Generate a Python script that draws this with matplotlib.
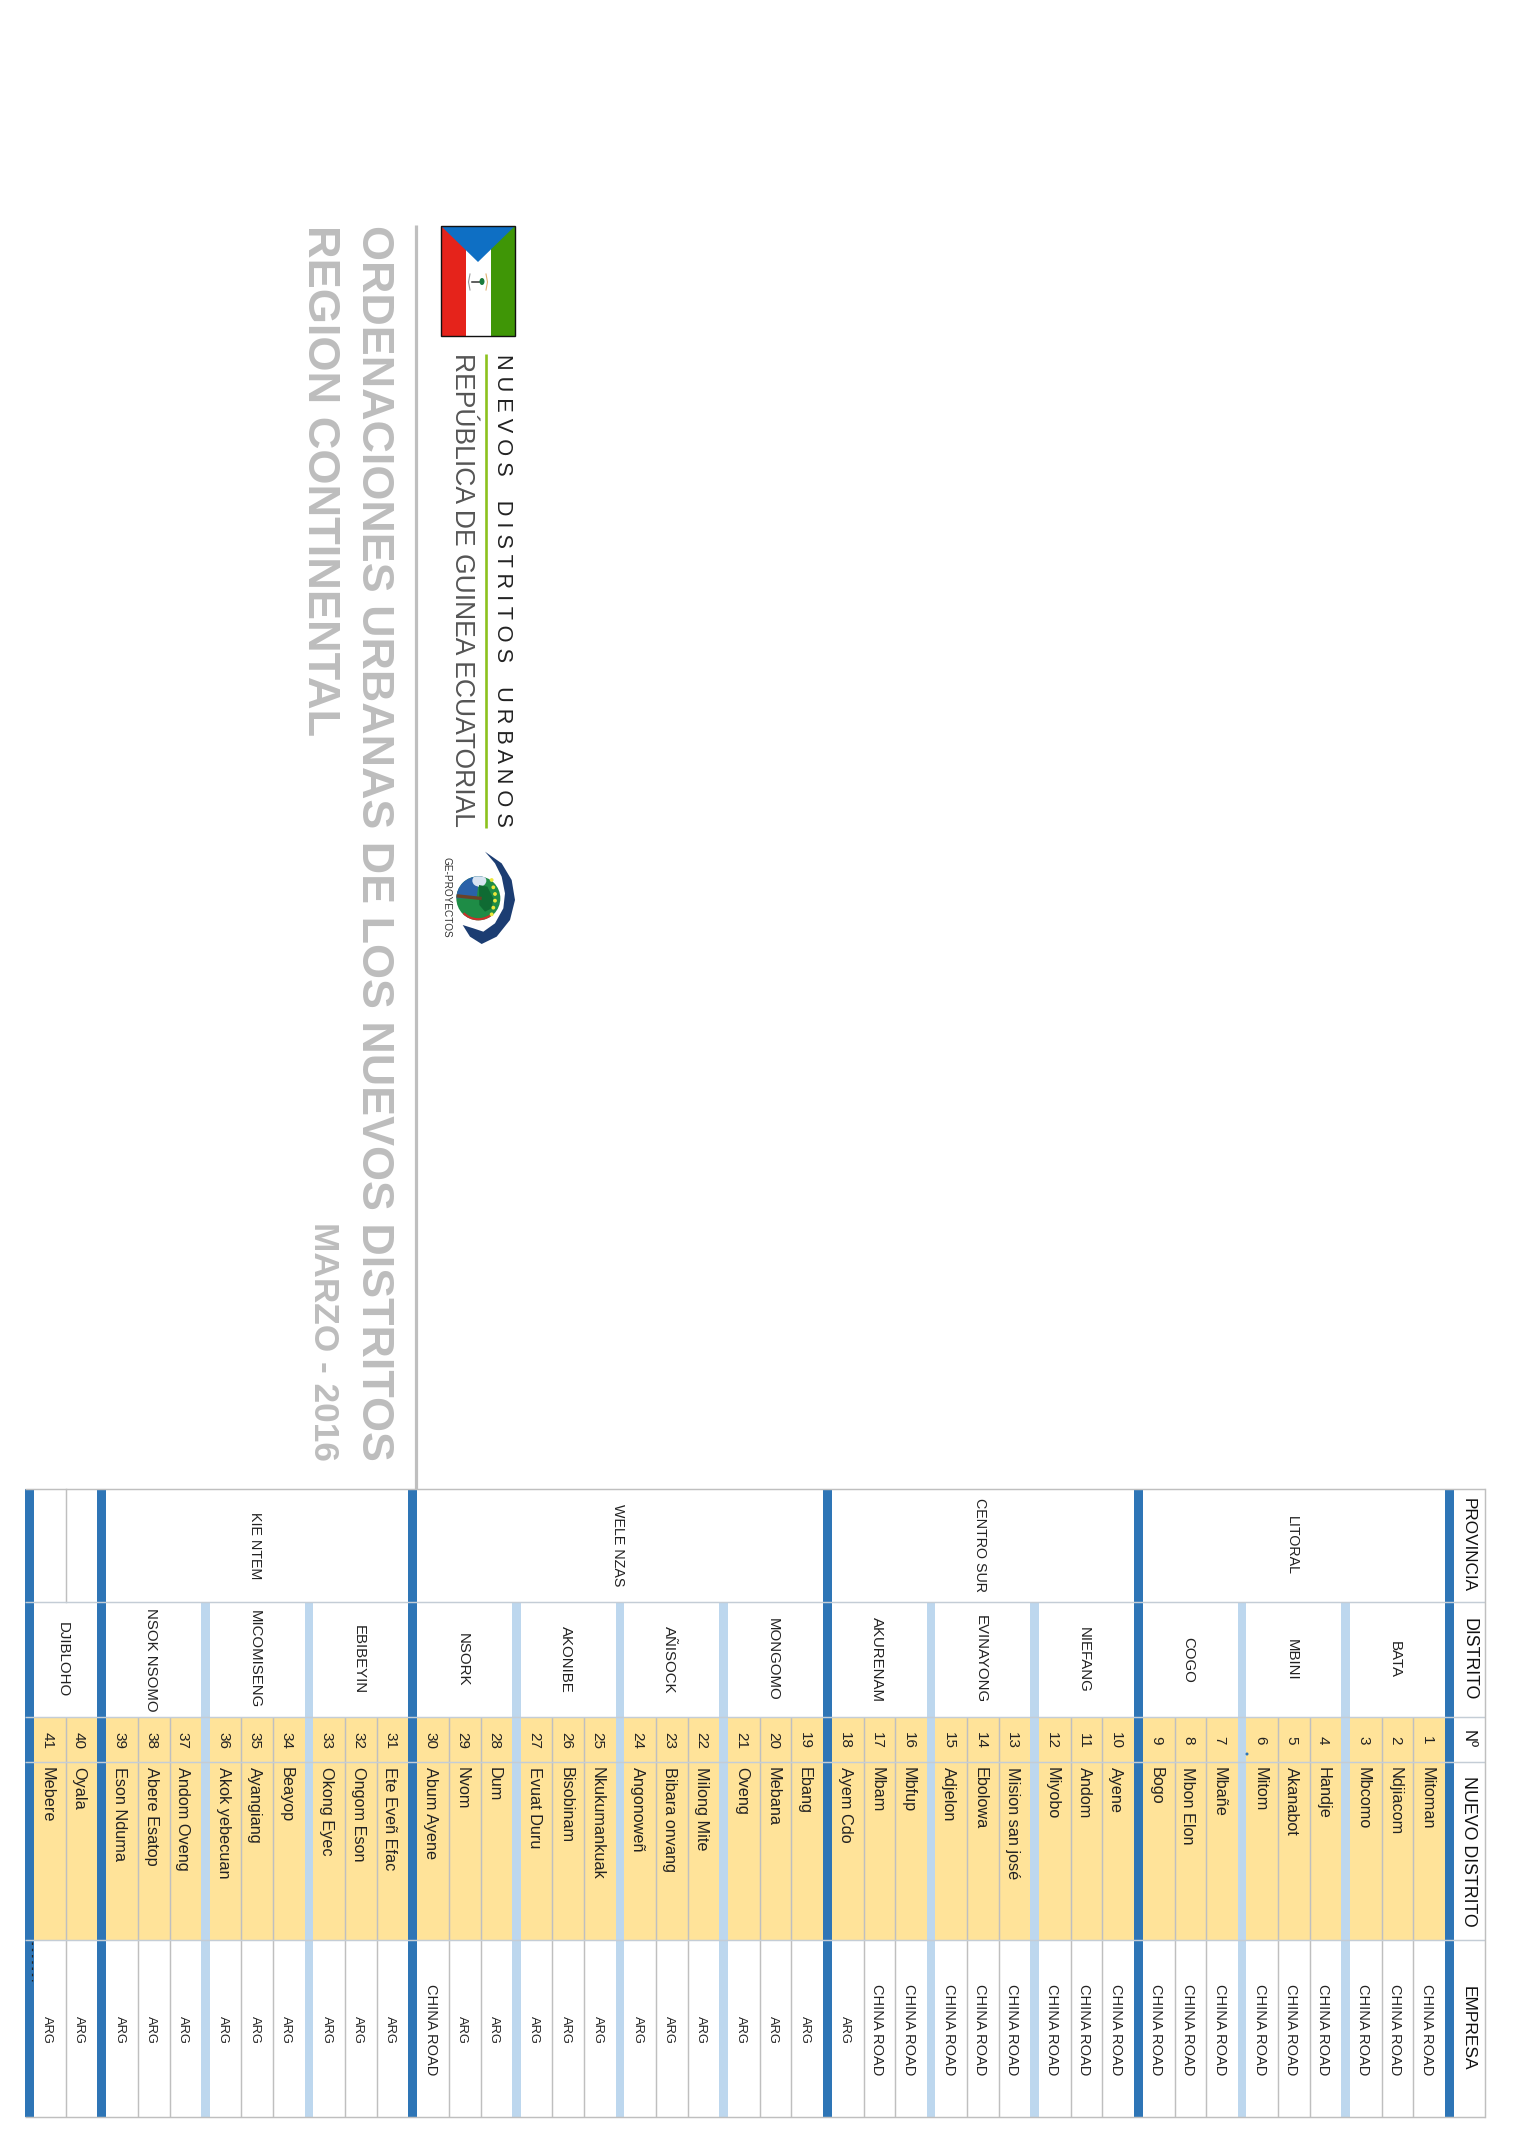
import matplotlib
matplotlib.use("Agg")
import matplotlib.pyplot as plt
from matplotlib.patches import Rectangle, Polygon, Circle, Wedge, Ellipse

# ---------- data ----------
province_names = ["LITORAL", "CENTRO SUR", "WELE NZAS", "KIE NTEM", ""]
province_districts = [3, 3, 4, 3, 1]
district_names = ["BATA", "MBINI", "COGO", "NIEFANG", "EVINAYONG", "AKURENAM", "MONGOMO",
                  "AÑISOCK", "AKONIBE", "NSORK", "EBIBEYIN", "MICOMISENG", "NSOK NSOMO", "DJIBLOHO"]
district_rows = [3, 3, 3, 3, 3, 3, 3, 3, 3, 3, 3, 3, 3, 2]
numbers = list(range(1, 42))
new_districts = ["Mitoman", "Ndjiacom", "Mbcomo", "Handje", "Akanabot", "Mitom", "Mbañe", "Mbon Elon",
                 "Bogo", "Ayene", "Andom", "Miyobo", "Mision san josé", "Ebolowa", "Adjelon", "Mbfup",
                 "Mbam", "Ayem Cdo", "Ebang", "Mebana", "Oveng", "Milong Mite", "Bibara onvang",
                 "Angonoweñ", "Nkukumankuak", "Bisobinam", "Evuat Duru", "Dum", "Nvom", "Abum Ayene",
                 "Ete Eveñ Efac", "Ongom Eson", "Okong Eyec", "Beayop", "Ayangiang", "Akok yebecuan",
                 "Andom Oveng", "Abere Esatop", "Eson Nduma", "Oyala", "Mebere"]
companies = ["CHINA ROAD"] * 17 + ["ARG"] * 11 + ["ARG", "CHINA ROAD"] + ["ARG"] * 11
headers = ["PROVINCIA", "DISTRITO", "Nº", "NUEVO DISTRITO", "EMPRESA"]
header_lengths = [94, 82, 18, 150, 85]
title_lines = ["ORDENACIONES URBANAS DE LOS NUEVOS DISTRITOS", "REGION CONTINENTAL"]
date_text = "MARZO - 2016"

# ---------- style / layout ----------
SANS = ["Liberation Sans", "DejaVu Sans"]
DARK, LIGHT, YELLOW, GRID = "#2E75B6", "#BDD7EE", "#FFE399", "#BFBFBF"
TITLE_GREY = "#BDBDBD"
INK = "#222222"
Y_EDGES = [1489, 1602, 1717, 1762, 1940, 2117]
RIGHT, LEFT = 1485, 25
HEAD_W, ROW_W, DARK_W, LIGHT_W = 31, 31.65, 9, 8.6
LW = 1.05
TX = -2.5   # text offset from the centre of its cell

fig = plt.figure(figsize=(15.21, 21.51), dpi=100, facecolor="white")
ax = fig.add_axes([0, 0, 1, 1])
ax.set_xlim(0, 1521)
ax.set_ylim(2151, 0)
ax.axis("off")


def rect(x0, x1, y0, y1, color, z=1):
    ax.add_patch(Rectangle((x0, y0), x1 - x0, y1 - y0, fc=color, ec="none", zorder=z))


def vtext(x, y, s, size, va="center", family=SANS, color=INK, weight="normal"):
    return ax.text(x, y, s, rotation=-90, ha="center", va=va, fontsize=size, family=family,
                   color=color, weight=weight, zorder=6)


def fit(t, length):
    r = fig.canvas.get_renderer()
    t.set_fontsize(t.get_fontsize() * length / t.get_window_extent(r).height)


# ---------- table layout, right to left ----------
x = RIGHT
hx0 = x - HEAD_W
for i, h in enumerate(headers):
    t = vtext((hx0 + x) / 2 - 1, (Y_EDGES[i] + Y_EDGES[i + 1]) / 2, h, 12, color="#111111")
    fit(t, header_lengths[i])
x = hx0

row_spans = []
row_i = 0
d_i = 0
vlines = []
for p_i, pname in enumerate(province_names):
    rect(x - DARK_W, x, Y_EDGES[0], Y_EDGES[-1], DARK, 3)
    x -= DARK_W
    p_right = x
    for k in range(province_districts[p_i]):
        if k > 0:
            rect(x - LIGHT_W, x, Y_EDGES[1], Y_EDGES[-1], LIGHT, 3)
            x -= LIGHT_W
        d_right = x
        for r in range(district_rows[d_i]):
            x0 = x - ROW_W
            row_spans.append((x0, x))
            xc = (x0 + x) / 2
            rect(x0, x, Y_EDGES[2], Y_EDGES[4], YELLOW, 1)
            vtext(xc + TX, (Y_EDGES[2] + Y_EDGES[3]) / 2 + 1, str(numbers[row_i]), 11)
            vtext(xc + TX, Y_EDGES[3] + 5, new_districts[row_i], 11.7, va="top")
            co = companies[row_i]
            vtext(xc + TX, (Y_EDGES[4] + Y_EDGES[5]) / 2 + 1, co, 10.5 if co != "ARG" else 9.3)
            if r < district_rows[d_i] - 1:
                vlines.append(x0)
            x = x0
            row_i += 1
        vtext((x + d_right) / 2 + TX, (Y_EDGES[1] + Y_EDGES[2]) / 2, district_names[d_i], 10.8)
        d_i += 1
    vtext((x + p_right) / 2 + TX, (Y_EDGES[0] + Y_EDGES[1]) / 2, pname, 10.3)
rect(x - DARK_W, x, Y_EDGES[0], Y_EDGES[-1], DARK, 3)
table_left = x - DARK_W

# grid
for vx in vlines:
    ax.plot([vx, vx], [Y_EDGES[2], Y_EDGES[-1]], color=GRID, lw=LW, zorder=2, solid_capstyle="butt")
dj = row_spans[-1][1]
ax.plot([dj, dj], [Y_EDGES[0], Y_EDGES[1]], color=GRID, lw=LW, zorder=2)
for i, y in enumerate(Y_EDGES):
    col = GRID if i in (0, 5) else "#C4CDD6"
    ax.plot([table_left, RIGHT], [y, y], color=col, lw=LW, zorder=4, solid_capstyle="butt")
ax.plot([RIGHT, RIGHT], [Y_EDGES[0], Y_EDGES[-1]], color=GRID, lw=LW, zorder=4)
# print specks
ax.plot([32.3, 32.3], [1942, 1981], color="#222222", lw=0.9, ls=(0, (2, 3)), zorder=5)
ax.add_patch(Circle((1247, 1754), 1.5, fc=DARK, ec="none", zorder=5))

# ---------- page title block ----------
ax.plot([415.7, 415.7], [225, 1489], color="#BFBFBF", lw=2.3, zorder=1, solid_capstyle="butt")
t = vtext(373, 225, title_lines[0], 34, va="top", color=TITLE_GREY, weight="bold")
fit(t, 1236)
t = vtext(319, 225, title_lines[1], 34, va="top", color=TITLE_GREY, weight="bold")
fit(t, 512)
t = vtext(323, 1222, date_text, 25, va="top", color=TITLE_GREY, weight="bold")
fit(t, 239)

# subtitle
ax.plot([486, 486], [354, 828], color="#8CC21E", lw=1.9, zorder=2, solid_capstyle="butt")
t = vtext(502.5, 354, "N U E V O S    D I S T R I T O S    U R B A N O S", 13, va="top",
          color="#222222")
fit(t, 474)
t = vtext(462, 353, "REPÚBLICA DE GUINEA ECUATORIAL", 24, va="top", color="#555555")
fit(t, 476)

# ---------- flag ----------
rect(441, 466, 226, 336, "#E5231B", 2)
rect(466, 491, 226, 336, "#FFFFFF", 2)
rect(491, 515, 226, 336, "#3F9606", 2)
ax.add_patch(Polygon([(441, 226), (515, 226), (478, 262)], fc="#0E6FC4", ec="none", zorder=3))
ax.add_patch(Rectangle((441, 226), 74, 110, fc="none", ec="#111111", lw=1.0, zorder=4))
ax.plot([470, 468.5, 470], [274, 282, 290], color="#999999", lw=0.8, zorder=4)
ax.plot([486, 487.5, 486], [274, 282, 290], color="#E0B070", lw=0.8, zorder=4)
ax.plot([472, 483], [282, 282], color="#333333", lw=1.1, zorder=4)
ax.add_patch(Ellipse((482, 281.5), 5, 7, fc="#1B7A3A", ec="none", zorder=4))


# ---------- GE-PROYECTOS logo (zoom coordinates of the mark) ----------
def L(zx, zy):
    return 430 + zx / 3, 830 + zy / 3


NAVY = "#1C3D72"
cx, cy = L(145, 205)
ax.add_patch(Circle((cx, cy), 22, fc="#1E8C46", ec="none", zorder=2))
clip = Circle((cx, cy), 22, transform=ax.transData)
sky = Polygon([L(70, 130), L(175, 130), L(145, 165), L(140, 205), L(70, 205)], fc="#2A62A8", ec="none", zorder=3)
ax.add_patch(sky)
sky.set_clip_path(clip)
glow = Ellipse(L(148, 152), 14, 12, fc="#D8E4F2", ec="none", zorder=3)
ax.add_patch(glow)
glow.set_clip_path(clip)
ax.add_patch(Wedge((cx, cy), 22, 55, 135, width=2.2, fc="#C8322B", ec="none", zorder=4))
ax.add_patch(Polygon([L(147, 165), L(172, 170), L(190, 205), L(185, 235), L(165, 245), L(148, 225)],
                     fc="#0F6B33", ec="none", zorder=4))
ax.plot([L(85, 198)[0], L(150, 205)[0]], [L(85, 198)[1], L(150, 205)[1]], color="#6B4226", lw=2.4, zorder=5)
for zx, zy in [(185, 150), (190, 172), (195, 192), (195, 212), (190, 233), (185, 253)]:
    ax.add_patch(Circle(L(zx, zy), 1.9, fc="#EDE73A", ec="none", zorder=5))
ax.add_patch(Polygon([L(*p) for p in [(165, 65), (215, 100), (245, 150), (255, 210), (240, 270), (200, 320),
                                      (155, 342), (120, 320), (98, 285), (130, 295), (160, 305), (195, 280),
                                      (220, 235), (225, 190), (215, 140), (195, 100)]],
                     fc=NAVY, ec="none", zorder=5))
t = vtext(446.5, 857, "GE-PROYECTOS", 8, va="top", color="#333333")
fit(t, 80)

fig.savefig("out.png", dpi=100, facecolor="white")
